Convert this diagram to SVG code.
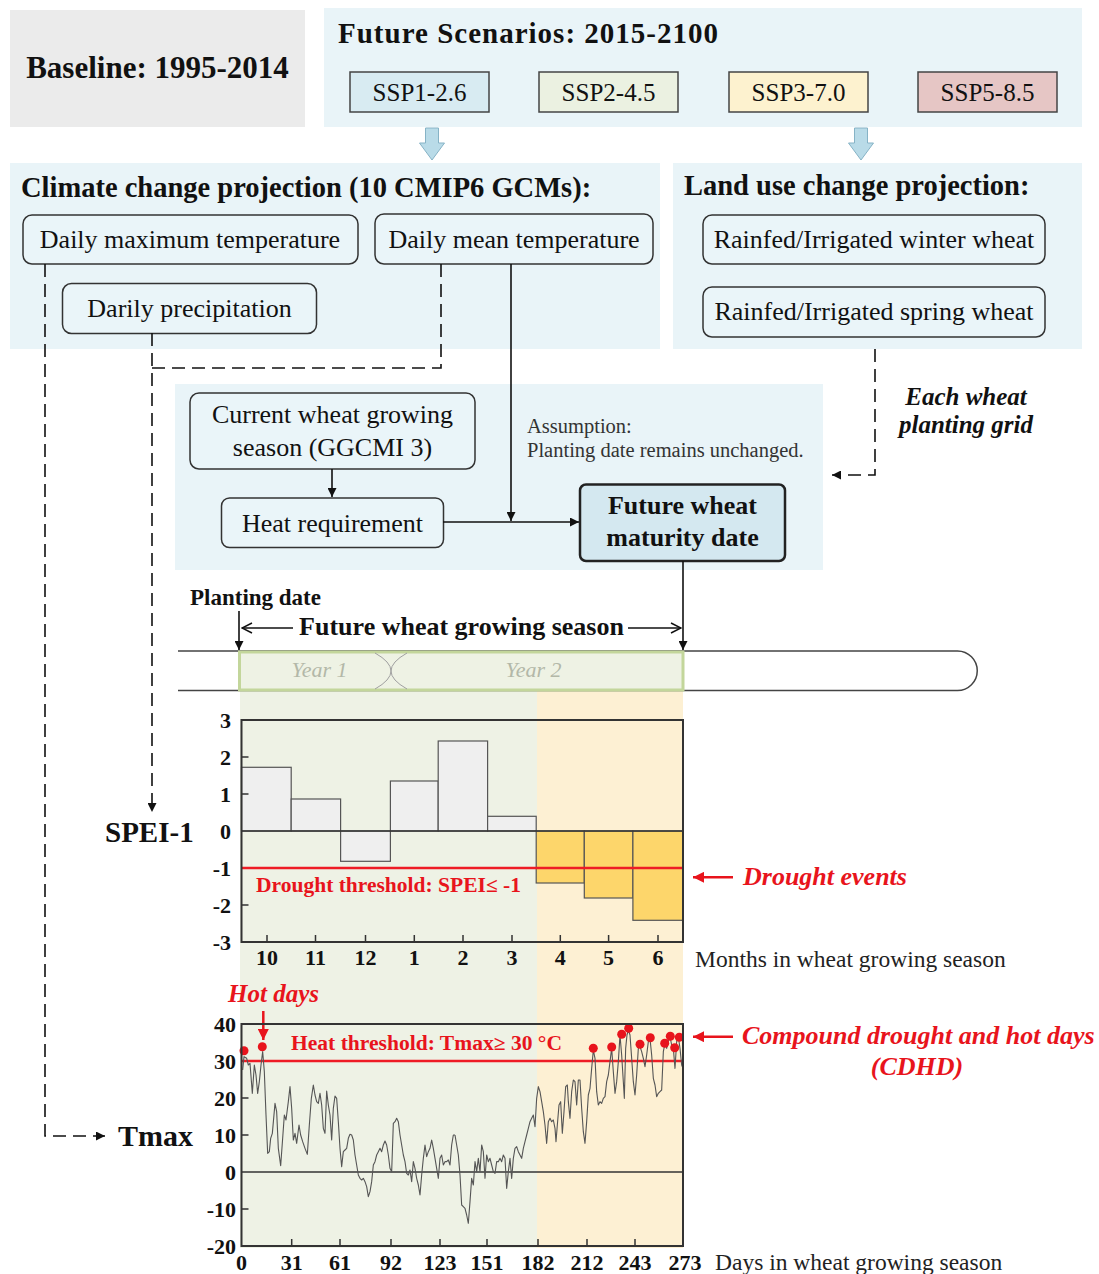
<svg xmlns="http://www.w3.org/2000/svg" width="1099" height="1274" viewBox="0 0 1099 1274">
<style>
text{font-family:"Liberation Serif","Times New Roman",serif;fill:#111}
.b{font-weight:bold}
.bi{font-weight:bold;font-style:italic}
.node{fill:#eaf5f9;stroke:#333;stroke-width:1.5}
.nt{font-size:26px;text-anchor:middle}
.panel{fill:#e9f4f8}
.ssp{stroke:#444;stroke-width:1.5}
.st{font-size:25px;text-anchor:middle}
.red{fill:#e8141c}
.ax{font-size:22px;font-weight:bold}
.axy{font-size:22px;font-weight:bold;text-anchor:end}
.axx{font-size:22px;font-weight:bold;text-anchor:middle}
.conn{fill:none;stroke:#111;stroke-width:1.6}
.dash{fill:none;stroke:#111;stroke-width:1.6;stroke-dasharray:13 7}
.tick{stroke:#333;stroke-width:1.5}
.gbar{fill:#efefef;stroke:#555;stroke-width:1.2}
.ybar{fill:#fdd66b;stroke:#555;stroke-width:1.2}
.frame{fill:none;stroke:#333;stroke-width:2}
.blk{fill:#b9dbe8;stroke:#86b3c6;stroke-width:1}
</style>
<defs>
<marker id="ah" viewBox="0 0 10 10" refX="10" refY="5" markerWidth="11" markerHeight="9" markerUnits="userSpaceOnUse" orient="auto"><path d="M0,0 L10,5 L0,10 Z" fill="#111"/></marker>
<marker id="ahr" viewBox="0 0 10 10" refX="10" refY="5" markerWidth="14" markerHeight="11" markerUnits="userSpaceOnUse" orient="auto"><path d="M0,0 L10,5 L0,10 Z" fill="#e8141c"/></marker>
<marker id="open" viewBox="0 0 12 12" refX="11" refY="6" markerWidth="12" markerHeight="12" markerUnits="userSpaceOnUse" orient="auto"><path d="M1,1 L11,6 L1,11" fill="none" stroke="#111" stroke-width="1.5"/></marker>
</defs>

<g id="baseline">
<rect x="10" y="10" width="295" height="117" fill="#ebebeb"/>
<text class="b" x="157.5" y="78" font-size="31" text-anchor="middle">Baseline: 1995-2014</text>
</g>

<g id="future-scenarios">
<rect class="panel" x="324" y="8" width="758" height="119"/>
<text class="b" x="338" y="43" font-size="29" textLength="380" lengthAdjust="spacing">Future Scenarios: 2015-2100</text>
<g id="ssp126"><rect class="ssp" x="350" y="72" width="139" height="40" fill="#d8ebf2"/><text class="st" x="419.5" y="101">SSP1-2.6</text></g>
<g id="ssp245"><rect class="ssp" x="539" y="72" width="139" height="40" fill="#ebf1e1"/><text class="st" x="608.5" y="101">SSP2-4.5</text></g>
<g id="ssp370"><rect class="ssp" x="729" y="72" width="139" height="40" fill="#fdf2cf"/><text class="st" x="798.5" y="101">SSP3-7.0</text></g>
<g id="ssp585"><rect class="ssp" x="918" y="72" width="139" height="40" fill="#e6c6c5"/><text class="st" x="987.5" y="101">SSP5-8.5</text></g>
</g>

<g id="block-arrows">
<path class="blk" d="M425.5,128 H438.5 V143 H444.5 L432,160 L419.5,143 H425.5 Z"/>
<path class="blk" d="M854.5,128 H867.5 V143 H873.5 L861,160 L848.5,143 H854.5 Z"/>
</g>

<g id="climate-panel">
<rect class="panel" x="10" y="163" width="650" height="186"/>
<text class="b" x="21" y="197" font-size="28.5">Climate change projection (10 CMIP6 GCMs):</text>
</g>
<g id="landuse-panel">
<rect class="panel" x="673" y="163" width="409" height="186"/>
<text class="b" x="684" y="195" font-size="28.5">Land use change projection:</text>
</g>

<g id="tmax-node"><rect class="node" x="23" y="215" width="335" height="49" rx="9"/><text class="nt" x="190" y="248">Daily maximum temperature</text></g>
<g id="tmean-node"><rect class="node" x="375" y="214" width="278" height="50" rx="9"/><text class="nt" x="514" y="248">Daily mean temperature</text></g>
<g id="precip-node"><rect class="node" x="62.5" y="283.5" width="254" height="50" rx="9"/><text class="nt" x="189.5" y="317">Darily precipitation</text></g>
<g id="winter-node"><rect class="node" x="703" y="215" width="342" height="49" rx="9"/><text class="nt" x="874" y="248">Rainfed/Irrigated winter wheat</text></g>
<g id="spring-node"><rect class="node" x="703" y="287" width="342" height="50" rx="9"/><text class="nt" x="874" y="320">Rainfed/Irrigated spring wheat</text></g>

<g id="phenology-panel">
<rect class="panel" x="175" y="384" width="648" height="186"/>
<text x="527" y="433" font-size="20.5" style="fill:#333">Assumption:</text>
<text x="527" y="457" font-size="20.5" style="fill:#333">Planting date remains unchanged.</text>
</g>
<g id="current-node"><rect class="node" x="190" y="393" width="285" height="76" rx="9"/><text class="nt" x="332.5" y="423">Current wheat growing</text><text class="nt" x="332.5" y="456">season (GGCMI 3)</text></g>
<g id="heat-node"><rect class="node" x="221.5" y="498" width="222" height="49.5" rx="8"/><text class="nt" x="332.5" y="532">Heat requirement</text></g>
<g id="maturity-node"><rect x="580" y="484.5" width="205" height="76.5" rx="6" fill="#d4e8f0" stroke="#222" stroke-width="2.5"/><text class="nt b" x="682.5" y="514">Future wheat</text><text class="nt b" x="682.5" y="546">maturity date</text></g>

<g id="grid-label">
<text class="bi" x="966" y="405" font-size="25" text-anchor="middle">Each wheat</text>
<text class="bi" x="966" y="433" font-size="25" text-anchor="middle">planting grid</text>
</g>

<g id="season-shading">
<rect x="240" y="691" width="297" height="557" fill="#eef2e5"/>
<rect x="537" y="691" width="146" height="557" fill="#fdf0d3"/>
</g>

<g id="timeline">
<text class="b" x="190" y="605" font-size="23">Planting date</text>
<text class="b" x="461.5" y="635" font-size="26" text-anchor="middle">Future wheat growing season</text>
<path d="M178,651 H957.5 A19.5,19.5 0 0 1 957.5,690.5 H178" fill="#fff" stroke="#444" stroke-width="1.5"/>
<rect x="239.5" y="652" width="443.5" height="38" fill="#eef2e4" stroke="#c3d69b" stroke-width="3"/>
<path d="M375,653 Q407,671 375,689 M407,653 Q375,671 407,689" fill="none" stroke="#a0a0a0" stroke-width="1"/>
<text x="319.5" y="677" font-size="22" font-style="italic" text-anchor="middle" style="fill:#b3b8a8">Year 1</text>
<text x="533.5" y="677" font-size="22" font-style="italic" text-anchor="middle" style="fill:#b3b8a8">Year 2</text>
</g>

<g id="connectors">
<path class="dash" d="M45,264 V1136 H105" marker-end="url(#ah)"/>
<path class="dash" d="M441,264 V368 H152"/>
<path class="dash" d="M152,333 V812" marker-end="url(#ah)"/>
<path class="dash" d="M875,349 V475 H832" marker-end="url(#ah)"/>
<path class="conn" d="M511,264 V521" marker-end="url(#ah)"/>
<path class="conn" d="M332,469 V497" marker-end="url(#ah)"/>
<path class="conn" d="M443,522 H579" marker-end="url(#ah)"/>
<path class="conn" d="M683,561 V650" marker-end="url(#ah)"/>
<path class="conn" d="M239,611 V650" marker-end="url(#ah)"/>
<path class="conn" d="M293,628 H242" marker-end="url(#open)"/>
<path class="conn" d="M628,628 H681" marker-end="url(#open)"/>
</g>

<g id="spei-chart">
<text class="b" x="105" y="842" font-size="29">SPEI-1</text>
<rect class="gbar" x="241.5" y="767.3" width="49.7" height="63.7"/>
<rect class="gbar" x="291.2" y="799" width="49.4" height="32"/>
<rect class="gbar" x="340.6" y="831" width="49.8" height="30.3"/>
<rect class="gbar" x="390.4" y="781" width="47.8" height="50"/>
<rect class="gbar" x="438.2" y="741" width="49.4" height="90"/>
<rect class="gbar" x="487.6" y="816.3" width="48.6" height="14.7"/>
<rect class="ybar" x="536.2" y="831" width="48.1" height="52"/>
<rect class="ybar" x="584.3" y="831" width="48.6" height="67"/>
<rect class="ybar" x="632.9" y="831" width="50" height="89.3"/>
<line x1="241.5" y1="831" x2="683" y2="831" stroke="#333" stroke-width="1.5"/>
<line x1="241.5" y1="868" x2="683" y2="868" stroke="#ee1c25" stroke-width="2.5"/>
<rect class="frame" x="241.5" y="720" width="441.5" height="222"/>
<path class="tick" d="M267,942 v-7 M315.5,942 v-7 M365.5,942 v-7 M414.3,942 v-7 M463,942 v-7 M512,942 v-7 M560.3,942 v-7 M608.6,942 v-7 M658,942 v-7 M241.5,757 h7 M241.5,794 h7 M241.5,905 h7"/>
<text class="axy" x="231" y="728">3</text>
<text class="axy" x="231" y="765">2</text>
<text class="axy" x="231" y="802">1</text>
<text class="axy" x="231" y="839">0</text>
<text class="axy" x="231" y="876">-1</text>
<text class="axy" x="231" y="913">-2</text>
<text class="axy" x="231" y="950">-3</text>
<text class="axx" x="267" y="965">10</text>
<text class="axx" x="315.5" y="965">11</text>
<text class="axx" x="365.5" y="965">12</text>
<text class="axx" x="414.3" y="965">1</text>
<text class="axx" x="463" y="965">2</text>
<text class="axx" x="512" y="965">3</text>
<text class="axx" x="560.3" y="965">4</text>
<text class="axx" x="608.6" y="965">5</text>
<text class="axx" x="658" y="965">6</text>
<text x="695" y="967" font-size="23.5" style="fill:#222">Months in wheat growing season</text>
<text class="b red" x="256" y="892" font-size="20" textLength="265" lengthAdjust="spacingAndGlyphs">Drought threshold: SPEI≤ -1</text>
<line x1="733" y1="877.3" x2="693" y2="877.3" stroke="#e8141c" stroke-width="2.5" marker-end="url(#ahr)"/>
<text class="bi red" x="743" y="885" font-size="26">Drought events</text>
</g>

<g id="tmax-chart">
<text class="b" x="118" y="1146" font-size="30">Tmax</text>
<text class="bi red" x="228" y="1002" font-size="25">Hot days</text>
<line x1="263.3" y1="1011" x2="263.3" y2="1040" stroke="#e8141c" stroke-width="2.5" marker-end="url(#ahr)"/>
<line x1="241.5" y1="1172" x2="683" y2="1172" stroke="#333" stroke-width="1.5"/>
<line x1="241.5" y1="1061" x2="683" y2="1061" stroke="#ee1c25" stroke-width="2.5"/>
<polyline transform="translate(230,1015) scale(0.33333)" fill="none" stroke="#555" stroke-width="3.3" stroke-linejoin="round" points="38,165 42,125 50,130 55,150 60,145 67,235 73,150 78,180 83,235 88,200 93,150 98,110 103,170 108,300 113,415 118,410 122,370 127,355 135,265 140,290 145,400 152,452 158,370 163,300 168,315 175,260 180,215 185,280 190,375 195,355 200,385 207,330 212,360 218,380 225,400 232,418 238,330 244,250 250,210 255,240 260,260 265,265 270,235 275,270 280,340 285,355 290,228 295,270 300,300 305,375 310,280 315,243 320,250 325,320 330,400 335,455 340,410 345,405 350,400 355,370 360,358 365,360 370,375 375,420 380,450 385,480 390,490 395,495 400,490 405,500 410,515 415,545 420,530 425,500 430,450 435,440 440,420 445,410 450,400 455,410 460,390 465,378 470,390 475,420 480,460 485,470 490,325 495,320 500,310 505,320 510,360 515,390 520,420 525,440 530,475 535,480 540,465 545,500 550,440 555,460 560,490 565,510 570,540 575,480 580,430 585,390 590,425 595,410 600,400 605,375 610,400 615,430 620,460 625,490 630,430 635,420 640,450 645,440 650,440 655,435 660,450 665,390 670,360 675,360"/>
<polyline transform="translate(455,1015) scale(0.33333)" fill="none" stroke="#555" stroke-width="3.3" stroke-linejoin="round" points="0,360 5,390 10,420 15,480 20,570 25,575 30,580 35,600 40,625 45,560 50,490 55,510 60,440 65,470 70,430 75,470 80,390 85,410 90,490 95,420 100,440 105,430 110,450 115,470 120,475 125,440 130,440 135,430 140,440 145,420 150,430 155,520 160,470 165,430 170,490 175,430 180,400 185,395 190,410 195,420 200,430 205,400 210,380 215,360 220,340 225,320 230,310 235,300 240,335 245,250 250,215 255,230 260,260 265,290 270,330 275,385 280,320 285,310 290,320 295,315 300,340 303,380 307,330 312,270 317,260 322,355 327,290 332,215 337,210 340,260 345,310 350,230 355,195 360,200 365,270 370,195 375,195 380,280 385,350 390,385 395,320 400,240 405,220 410,160 415,105 420,130 425,230 430,270 435,260 440,265 445,250 450,245 455,200 460,180 465,140 470,100 475,170 480,235 485,200 490,140 495,60 500,120 505,200 508,250 512,100 516,60 520,45 525,60 530,130 535,200 540,240 545,180 550,100 555,95 560,110 565,130 570,155 575,120 580,80 585,70 590,120 595,190 600,210 605,245 610,235 615,230 620,225 625,110 630,85 635,100 640,80 645,65 650,90 655,100 660,160 665,80 670,65 675,100 680,150 684,160"/>
<g class="red">
<circle cx="244" cy="1050.7" r="4.5"/><circle cx="262.3" cy="1046.7" r="4.5"/><circle cx="593.3" cy="1048.3" r="4.5"/><circle cx="611.7" cy="1047" r="4.5"/><circle cx="621.7" cy="1034.3" r="4.5"/><circle cx="628.7" cy="1028.3" r="4.5"/><circle cx="640" cy="1044.3" r="4.5"/><circle cx="650.3" cy="1037.7" r="4.5"/><circle cx="664.7" cy="1043.3" r="4.5"/><circle cx="670.3" cy="1036.3" r="4.5"/><circle cx="674.7" cy="1047.7" r="4.5"/><circle cx="679.3" cy="1037.3" r="4.5"/>
</g>
<rect class="frame" x="241.5" y="1024" width="441.5" height="222"/>
<path class="tick" d="M291.7,1246 v-7 M340,1246 v-7 M391,1246 v-7 M440,1246 v-7 M487,1246 v-7 M538,1246 v-7 M587,1246 v-7 M635,1246 v-7 M241.5,1098 h7 M241.5,1135 h7 M241.5,1209 h7"/>
<text class="axy" x="236" y="1032">40</text>
<text class="axy" x="236" y="1069">30</text>
<text class="axy" x="236" y="1106">20</text>
<text class="axy" x="236" y="1143">10</text>
<text class="axy" x="236" y="1180">0</text>
<text class="axy" x="236" y="1217">-10</text>
<text class="axy" x="236" y="1254">-20</text>
<text class="axx" x="241.5" y="1270">0</text>
<text class="axx" x="291.7" y="1270">31</text>
<text class="axx" x="340" y="1270">61</text>
<text class="axx" x="391" y="1270">92</text>
<text class="axx" x="440" y="1270">123</text>
<text class="axx" x="487" y="1270">151</text>
<text class="axx" x="538" y="1270">182</text>
<text class="axx" x="587" y="1270">212</text>
<text class="axx" x="635" y="1270">243</text>
<text class="axx" x="685" y="1270">273</text>
<text x="715" y="1270" font-size="23.5" style="fill:#222">Days in wheat growing season</text>
<text class="b red" x="291" y="1050" font-size="20" textLength="271" lengthAdjust="spacingAndGlyphs">Heat threshold: Tmax≥ 30 °C</text>
<line x1="733" y1="1036.7" x2="693" y2="1036.7" stroke="#e8141c" stroke-width="2.5" marker-end="url(#ahr)"/>
<text class="bi red" x="742" y="1044" font-size="26">Compound drought and hot days</text>
<text class="bi red" x="917" y="1075" font-size="26" text-anchor="middle">(CDHD)</text>
</g>
</svg>
